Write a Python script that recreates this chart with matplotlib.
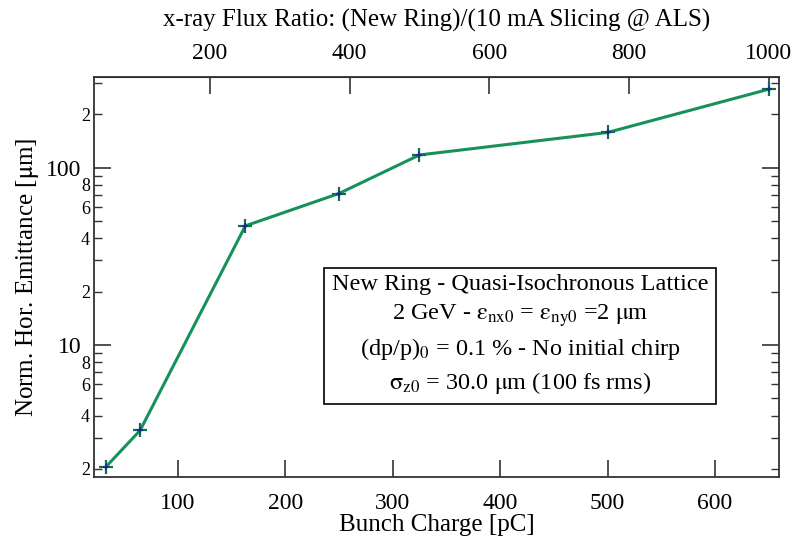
import matplotlib
matplotlib.use("Agg")
import matplotlib.pyplot as plt
from matplotlib.ticker import FixedLocator, FixedFormatter, NullLocator

# ---- data ----
charge_pC = [33, 65, 163, 250, 325, 500, 650]
emittance_um = [2.05, 3.3, 47, 71.5, 118, 158, 277]
bottom_ticks = [100, 200, 300, 400, 500, 600]
top_ticks = [200, 400, 600, 800, 1000]
flux_per_charge = 1000.0 / 650.0
y_major = [10, 100]
y_major_labels = ["10", "100"]
y_minor = [2, 3, 4, 5, 6, 7, 8, 9, 20, 30, 40, 50, 60, 70, 80, 90, 200, 300]
y_minor_labels = ["2", "", "4", "", "6", "", "8", "", "2", "", "4", "", "6", "", "8", "", "2", ""]
box_lines = [
    "New Ring - Quasi-Isochronous Lattice",
    r"2 GeV - $\mathrm{\varepsilon}_{\mathrm{nx0}}$ = $\mathrm{\varepsilon}_{\mathrm{ny0}}$ =2 $\mathrm{\mu}$m",
    r"(dp/p)$_{\mathrm{0}}$ = 0.1 % - No initial chirp",
    r"$\mathrm{\sigma}_{\mathrm{z0}}$ = 30.0 $\mathrm{\mu}$m (100 fs rms)",
]

plt.rcParams["font.family"] = ["Liberation Serif", "DejaVu Serif"]
plt.rcParams["mathtext.fontset"] = "stix"

fig = plt.figure(figsize=(7.92, 5.47), dpi=100)
ax = fig.add_axes([94 / 792, 1 - 477.3 / 547, (779 - 94) / 792, (477.3 - 76.7) / 547])

ax.plot(charge_pC, emittance_um, color="#17915a", lw=2.2, zorder=2)
ax.plot(charge_pC, emittance_um, ls="none", marker="+", ms=10, mew=1.6,
        color="#0f6d55", zorder=3)
ax.plot(charge_pC, emittance_um, ls="none", marker="+", ms=4, mew=1.2,
        color="#1b2a8a", zorder=4)

ax.set_yscale("log")
ax.set_xlim(22.1, 659.6)
ax.set_ylim(1.795, 326)

for sp in ax.spines.values():
    sp.set_linewidth(1.3)
    sp.set_color("#333333")

ax.xaxis.set_major_locator(FixedLocator(bottom_ticks))
ax.xaxis.set_major_formatter(FixedFormatter([str(t) for t in bottom_ticks]))
ax.xaxis.set_minor_locator(NullLocator())
ax.tick_params(axis="x", which="major", direction="in", length=12, width=1.2,
               labelsize=17, pad=11, color="#333333")

ax.yaxis.set_major_locator(FixedLocator(y_major))
ax.yaxis.set_major_formatter(FixedFormatter(y_major_labels))
ax.yaxis.set_minor_locator(FixedLocator(y_minor))
ax.yaxis.set_minor_formatter(FixedFormatter(y_minor_labels))
ax.tick_params(axis="y", which="major", direction="in", length=12, width=1.2,
               labelsize=17, pad=9, right=True, color="#333333")
ax.tick_params(axis="y", which="minor", direction="in", length=6, width=1.0,
               labelsize=13, pad=3, right=True, color="#333333")

ax.set_xlabel("Bunch Charge [pC]", fontsize=18, labelpad=0)
ax.set_ylabel("Norm. Hor. Emittance [$\\mathrm{\\mu}$m]", fontsize=18, labelpad=4)

sec = ax.secondary_xaxis("top", functions=(lambda x: x * flux_per_charge,
                                           lambda r: r / flux_per_charge))
sec.xaxis.set_major_locator(FixedLocator(top_ticks))
sec.xaxis.set_major_formatter(FixedFormatter([str(t) for t in top_ticks]))
sec.xaxis.set_minor_locator(NullLocator())
sec.tick_params(axis="x", which="major", direction="in", length=12, width=1.2,
                labelsize=17, pad=9, color="#333333")
sec.set_xlabel("x-ray Flux Ratio: (New Ring)/(10 mA Slicing @ ALS)", fontsize=18, labelpad=12)

fig.text(520 / 792, 1 - 335 / 547, "\n".join(box_lines), ha="center", va="center",
         fontsize=17.5, linespacing=1.4,
         bbox=dict(boxstyle="square,pad=0.32", fc="white", ec="black", lw=1.2))

fig.savefig("out.png", dpi=100)
